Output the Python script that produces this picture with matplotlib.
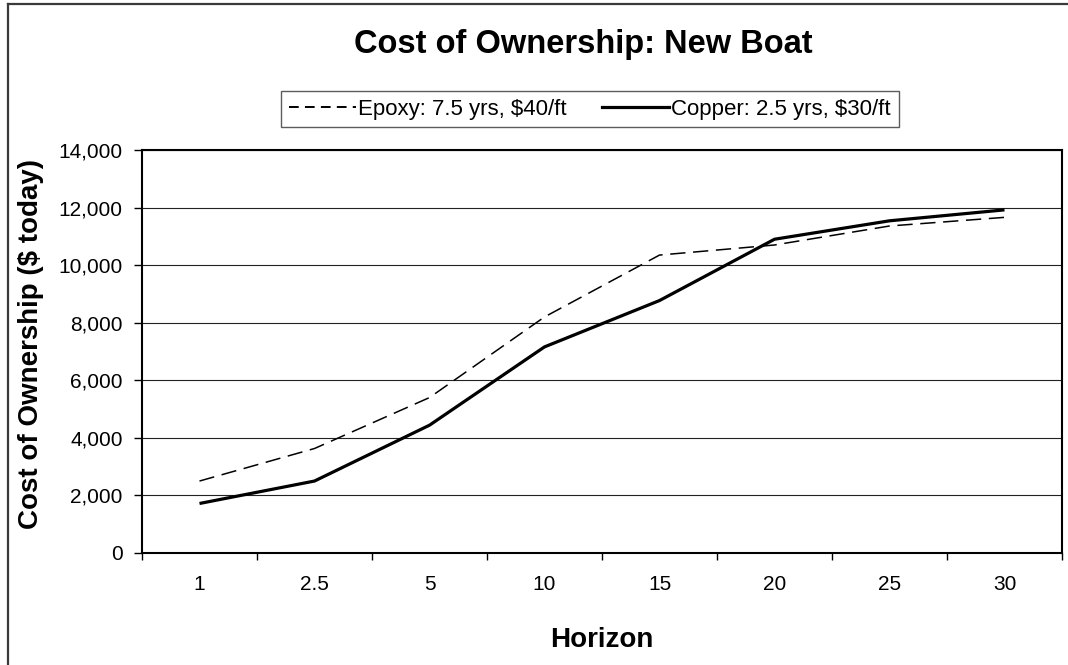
import numpy as np
from matplotlib import pyplot as plt
from matplotlib.lines import Line2D
from matplotlib.ticker import FixedLocator, StrMethodFormatter

# Data
horizons = ['1', '2.5', '5', '10', '15', '20', '25', '30']
epoxy = [2500, 3630, 5400, 8200, 10350, 10700, 11360, 11660]
copper = [1720, 2500, 4440, 7160, 8770, 10900, 11540, 11920]
epoxy_label = 'Epoxy: 7.5 yrs, $40/ft'
copper_label = 'Copper: 2.5 yrs, $30/ft'

plt.rcParams['font.family'] = ['Liberation Sans', 'DejaVu Sans']

W, H = 1068, 665
fig = plt.figure(figsize=(W / 100, H / 100), dpi=100)

# plot area in pixels: left 142, right 1062, top 150, bottom 553
ax = fig.add_axes([142 / W, 1 - 553 / H, 920 / W, 403 / H])

x = np.arange(1, len(horizons) + 1)
ax.plot(x, epoxy, color='black', lw=1.1, dashes=(10, 5))
ax.plot(x, copper, color='black', lw=2.3, solid_capstyle='butt')

ax.set_xlim(0.5, len(horizons) + 0.5)
ax.set_ylim(0, 14000)

# categories: labels at the centre, tick marks between them
ax.set_xticks(x)
ax.set_xticklabels(horizons)
ax.xaxis.set_minor_locator(FixedLocator(np.arange(0.5, len(horizons) + 1, 1)))
ax.tick_params(axis='x', which='major', length=0, pad=16, labelsize=15)
ax.tick_params(axis='x', which='minor', length=5, width=1, direction='out')

ax.set_yticks(np.arange(0, 14001, 2000))
ax.yaxis.set_major_formatter(StrMethodFormatter('{x:,.0f}'))
ax.tick_params(axis='y', length=6, width=1, direction='out', pad=8, labelsize=15)

ax.yaxis.grid(True, color='#222222', lw=0.8)
ax.set_axisbelow(True)
for s in ax.spines.values():
    s.set_linewidth(1.5)
    s.set_color('black')

fig.text(583 / W, 1 - 53 / H, 'Cost of Ownership: New Boat', ha='center',
         va='baseline', fontsize=23.5, fontweight='bold')
fig.text(31 / W, 1 - 344 / H, 'Cost of Ownership ($ today)', rotation=90,
         ha='center', va='center', fontsize=20, fontweight='bold')
fig.text(602 / W, 1 - 647 / H, 'Horizon', ha='center', va='baseline',
         fontsize=20, fontweight='bold')

# legend handles drawn the way the reference shows them
handles = [Line2D([], [], color='black', lw=1.4, dashes=(5, 3.2)),
           Line2D([], [], color='black', lw=2.3)]
leg = fig.legend(handles, [epoxy_label, copper_label], loc='center',
                 bbox_to_anchor=(590 / W, 1 - 109 / H), ncol=2,
                 fontsize=16, frameon=True, fancybox=False, handlelength=3.0,
                 handletextpad=0.1, columnspacing=1.6, borderpad=0.35,
                 borderaxespad=0)
leg.get_frame().set_edgecolor('#333333')
leg.get_frame().set_linewidth(1.0)

# outer chart frame (left and top edges visible)
fig.add_artist(Line2D([7.5 / W, 7.5 / W], [0, 1 - 3.5 / H], transform=fig.transFigure,
                      color='#3a3a3a', lw=1.6))
fig.add_artist(Line2D([7.5 / W, 1], [1 - 3.5 / H, 1 - 3.5 / H], transform=fig.transFigure,
                      color='#3a3a3a', lw=1.6))

fig.savefig('out.png', dpi=100)
